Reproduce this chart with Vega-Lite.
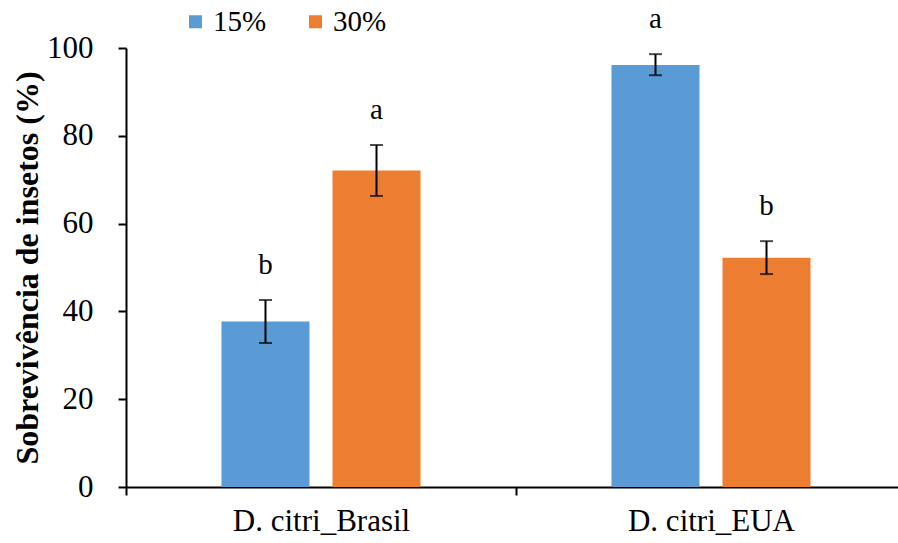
{
  "$schema": "https://vega.github.io/schema/vega-lite/v6.json",
  "autosize": "none",
  "width": 772,
  "height": 439,
  "padding": {"left": 126, "top": 48, "right": 0, "bottom": 56},
  "background": "white",
  "config": {
    "font": "Liberation Serif",
    "view": {"stroke": null},
    "axis": {"grid": false, "domainColor": "black", "tickColor": "black", "domainWidth": 2, "tickWidth": 2, "labelColor": "black", "titleColor": "black", "labelFont": "Liberation Serif", "titleFont": "Liberation Serif", "labelOverlap": false},
    "legend": {"labelFont": "Liberation Serif"}
  },
  "data": {
    "values": [
      {"site": "D. citri_Brasil", "conc": "15%", "mean": 37.7, "lo": 32.8, "hi": 42.6, "letter": "b"},
      {"site": "D. citri_Brasil", "conc": "30%", "mean": 72.1, "lo": 66.3, "hi": 77.9, "letter": "a"},
      {"site": "D. citri_EUA", "conc": "15%", "mean": 96.1, "lo": 93.8, "hi": 98.6, "letter": "a"},
      {"site": "D. citri_EUA", "conc": "30%", "mean": 52.2, "lo": 48.5, "hi": 56.0, "letter": "b"}
    ]
  },
  "encoding": {
    "x": {
      "field": "site", "type": "nominal",
      "scale": {"range": [0, 780], "paddingInner": 0, "paddingOuter": 0},
      "axis": {"title": null, "labelAngle": 0, "labelFontSize": 31, "tickBand": "extent", "tickSize": 8, "labelPadding": 11}
    },
    "xOffset": {
      "field": "conc", "type": "nominal",
      "scale": {"paddingInner": 0.207, "paddingOuter": 0.86}
    }
  },
  "layer": [
    {
      "mark": {"type": "bar"},
      "encoding": {
        "y": {
          "field": "mean", "type": "quantitative",
          "scale": {"domain": [0, 100], "nice": false},
          "axis": {"title": "Sobrevivência de insetos (%)", "titleFontSize": 32, "titleFontWeight": "bold", "titlePadding": 2, "labelFontSize": 31, "values": [0, 20, 40, 60, 80, 100], "tickSize": 8, "labelPadding": 25}
        },
        "color": {
          "field": "conc", "type": "nominal",
          "scale": {"domain": ["15%", "30%"], "range": ["#5B9BD5", "#ED7D31"]},
          "legend": {"title": null, "orient": "none", "legendX": 55, "legendY": -41, "direction": "horizontal", "symbolType": "square", "symbolSize": 169, "symbolStrokeWidth": 0, "labelFontSize": 29, "labelOffset": 3, "columnPadding": 34, "labelColor": "black"}
        }
      }
    },
    {
      "mark": {"type": "rule", "color": "black", "strokeWidth": 2},
      "encoding": {
        "y": {"field": "lo", "type": "quantitative"},
        "y2": {"field": "hi"}
      }
    },
    {
      "mark": {"type": "tick", "color": "black", "thickness": 2, "size": 13},
      "encoding": {"y": {"field": "lo", "type": "quantitative"}}
    },
    {
      "mark": {"type": "tick", "color": "black", "thickness": 2, "size": 13},
      "encoding": {"y": {"field": "hi", "type": "quantitative"}}
    },
    {
      "mark": {"type": "text", "fontSize": 29, "baseline": "alphabetic", "dy": -26, "color": "black"},
      "encoding": {
        "y": {"field": "hi", "type": "quantitative"},
        "text": {"field": "letter"}
      }
    }
  ]
}
